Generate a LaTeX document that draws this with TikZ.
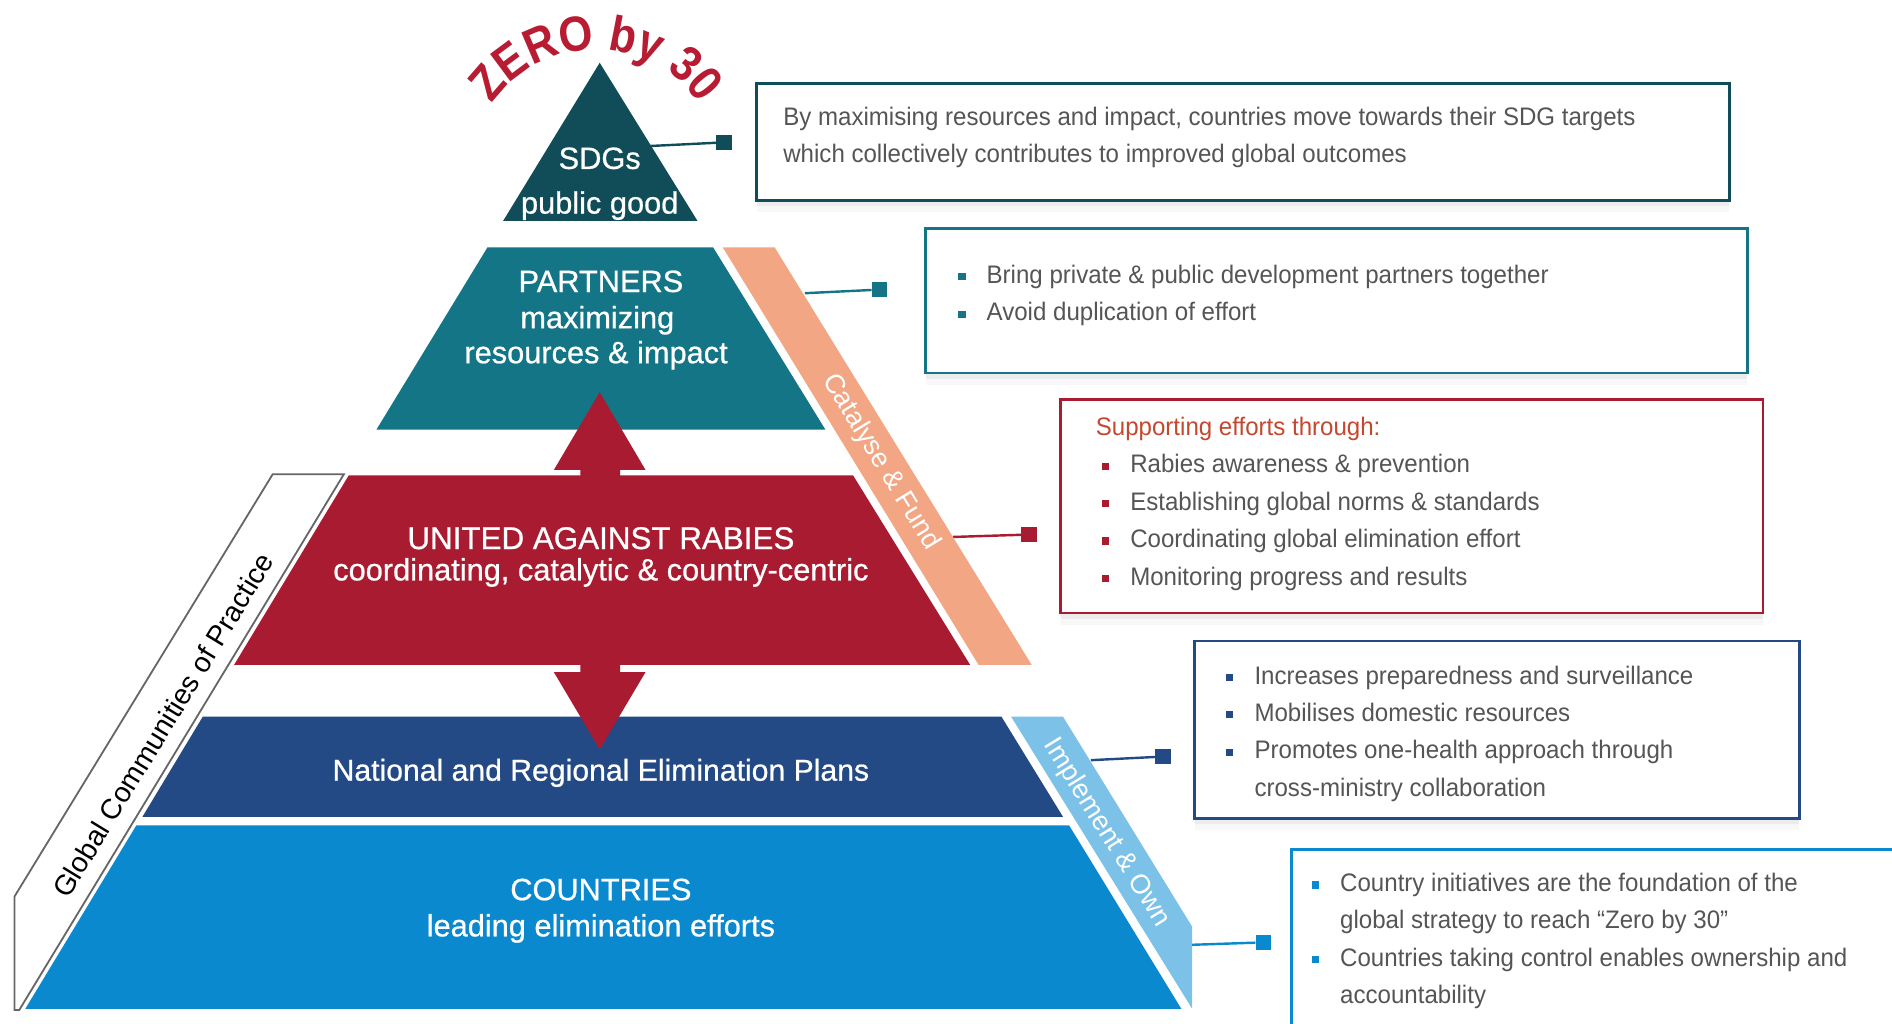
\documentclass[tikz,border=0pt]{standalone}
\usepackage{fontspec}
\setmainfont{Liberation Sans}
\newfontfamily\boxfont[FakeStretch=0.95]{Liberation Sans}
\newfontfamily\tierfont[FakeBold=0.7]{Liberation Sans}
\newfontfamily\zerofam[FakeStretch=0.88]{Liberation Sans}
\usepackage{tikz}
\usetikzlibrary{positioning,decorations.text,shadows}
\definecolor{sdgcol}{RGB}{16,77,88}
\definecolor{partcol}{RGB}{19,117,133}
\definecolor{uarcol}{RGB}{169,27,48}
\definecolor{natcol}{RGB}{36,74,134}
\definecolor{ctrycol}{RGB}{10,137,207}
\definecolor{catcol}{RGB}{242,166,131}
\definecolor{implcol}{RGB}{124,194,232}
\definecolor{zerocol}{RGB}{183,28,50}
\definecolor{bodycol}{RGB}{85,85,85}
\definecolor{headcol}{RGB}{196,72,48}
\newcommand{\zerofont}{\zerofam\bfseries\fontsize{41}{44}\selectfont}
\newcommand{\sqbul}[1]{\makebox[23.5pt][l]{\textcolor{#1}{\rule[2.5pt]{6pt}{6pt}}}}
\newcommand{\nobul}{\hspace*{23.5pt}}

\begin{document}
\begin{tikzpicture}[x=1pt, y=-1pt]
        \tikzstyle{lbl} = [text=white, inner sep=0pt, anchor=base, font=\tierfont\fontsize{25.5}{30}\selectfont]
        \tikzstyle{bandlbl} = [text=white, inner sep=0pt, font=\fontsize{22.5}{26}\selectfont]
        \tikzstyle{sq} = [fill=#1, minimum size=13pt, inner sep=0pt]
        \tikzstyle{link} = [draw=#1, line width=2pt]
        \tikzstyle{infobox} = [draw=#1, line width=2.2pt, fill=white, anchor=north west, inner sep=0pt,
            drop shadow={shadow xshift=0pt, shadow yshift=-5pt, opacity=0.10},
            drop shadow={shadow xshift=0pt, shadow yshift=-10pt, opacity=0.05}]
        \tikzstyle{boxtxt} = [text=bodycol, inner sep=0pt, anchor=north west, align=left,
            font=\boxfont\fontsize{21}{31}\selectfont]
        \useasboundingbox (0,0) rectangle (1568,848);
        \clip (0,0) rectangle (1568,848);
        \fill[white] (0,0) rectangle (1568,848);

        \fill[catcol] (599,205) -- (642,205) -- (855,551) -- (811,551) -- cycle;
        \fill[implcol] (838,594) -- (881,594) -- (988,768) -- (988,836) -- cycle;
        \filldraw[fill=white, draw=gray!80!black, line width=1.5pt] (226,393) -- (285,393) -- (16,837) -- (12,837) -- (12,743) -- cycle;

        \fill[sdgcol] (497,52) -- (578,183) -- (417,183) -- cycle;
        \fill[partcol] (404,205) -- (591,205) -- (684,356) -- (312,356) -- cycle;
        \fill[uarcol] (289,394) -- (707,394) -- (804,551) -- (194,551) -- cycle;
        \fill[natcol] (168,594) -- (830,594) -- (881,677) -- (118,677) -- cycle;
        \fill[ctrycol] (113,684) -- (886,684) -- (979,836) -- (21,836) -- cycle;

        \fill[uarcol] (497,325) -- (535,389.5) -- (514,389.5) -- (514,396) -- (481,396) -- (481,389.5) -- (459,389.5) -- cycle;
        \fill[uarcol] (497,621) -- (535,557) -- (514,557) -- (514,549) -- (481,549) -- (481,557) -- (459,557) -- cycle;

        \coordinate (zc) at (494,146);
        \path[decorate, decoration={text along path, text={|\zerofont|ZERO by 30}, text align=center, text color=zerocol}]
            (zc) ++(165:105pt) arc[start angle=165, end angle=15, radius=105pt];

        \node (sdgs) [lbl] at (497,140) {SDGs};
        \node (pubgood) [lbl] at (497,177) {public good};
        \node (partners) [lbl] at (498,242) {PARTNERS};
        \node (maxim) [lbl] at (495,272) {maximizing};
        \node (resimp) [lbl] at (494,301) {resources \& impact};
        \node (uar) [lbl, font=\tierfont\fontsize{26}{30}\selectfont] at (498,455) {UNITED AGAINST RABIES};
        \node (coord) [lbl, font=\tierfont\fontsize{25.5}{30}\selectfont] at (498,481) {coordinating, catalytic \& country-centric};
        \node (natplans) [lbl, font=\tierfont\fontsize{25}{30}\selectfont] at (498,647) {National and Regional Elimination Plans};
        \node (countries) [lbl] at (498,746) {COUNTRIES};
        \node (leading) [lbl] at (498,776) {leading elimination efforts};

        \node (catalyse) [bandlbl, rotate=-58.6] at (730,383) {Catalyse \& Fund};
        \node (implement) [bandlbl, rotate=-58.2] at (917,690) {Implement \& Own};
        \node (gcop) [bandlbl, text=black, font=\fontsize{23.5}{26}\selectfont, rotate=58.6] at (135,601) {Global Communities of Practice};

        \node (sdgbox) [infobox=sdgcol, minimum width=806pt, minimum height=97pt] at (626,68) {};
        \node (partbox) [infobox=partcol, minimum width=681pt, minimum height=120pt] at (766,188) {};
        \node (uarbox) [infobox=uarcol, minimum width=582pt, minimum height=177pt] at (878,330) {};
        \node (natbox) [infobox=natcol, minimum width=501pt, minimum height=147pt] at (989,530) {};
        \node (ctrybox) [infobox=ctrycol, minimum width=600pt, minimum height=200pt] at (1069,703) {};

        \node (sdgtext) [boxtxt] at (649,82) {\strut By maximising resources and impact, countries move towards their SDG targets\\
            \strut which collectively contributes to improved global outcomes};
        \node (parttext) [boxtxt] at (794,213) {\strut\sqbul{partcol}Bring private \& public development partners together\\
            \strut\sqbul{partcol}Avoid duplication of effort};
        \node (uartext) [boxtxt] at (908,339) {\strut\textcolor{headcol}{Supporting efforts through:}\\
            \strut\hspace*{5pt}\sqbul{uarcol}Rabies awareness \& prevention\\
            \strut\hspace*{5pt}\sqbul{uarcol}Establishing global norms \& standards\\
            \strut\hspace*{5pt}\sqbul{uarcol}Coordinating global elimination effort\\
            \strut\hspace*{5pt}\sqbul{uarcol}Monitoring progress and results};
        \node (nattext) [boxtxt] at (1016,545) {\strut\sqbul{natcol}Increases preparedness and surveillance\\
            \strut\sqbul{natcol}Mobilises domestic resources\\
            \strut\sqbul{natcol}Promotes one-health approach through\\
            \strut\nobul cross-ministry collaboration};
        \node (ctrytext) [boxtxt] at (1087,717) {\strut\sqbul{ctrycol}Country initiatives are the foundation of the\\
            \strut\nobul global strategy to reach “Zero by 30”\\
            \strut\sqbul{ctrycol}Countries taking control enables ownership and\\
            \strut\nobul accountability};

        \coordinate (sdgpt) at (539,121);
        \coordinate (partpt) at (667,243);
        \coordinate (uarpt) at (790,445);
        \coordinate (natpt) at (904,630);
        \coordinate (ctrypt) at (988,783);
        \node (sdgsq) [sq=sdgcol] at (600,118) {};
        \node (partsq) [sq=partcol] at (729,240) {};
        \node (uarsq) [sq=uarcol] at (853,443) {};
        \node (natsq) [sq=natcol] at (964,627) {};
        \node (ctrysq) [sq=ctrycol] at (1047,781) {};
        \draw[link=sdgcol] (sdgpt) -- (sdgsq);
        \draw[link=partcol] (partpt) -- (partsq);
        \draw[link=uarcol] (uarpt) -- (uarsq);
        \draw[link=natcol] (natpt) -- (natsq);
        \draw[link=ctrycol] (ctrypt) -- (ctrysq);
    \end{tikzpicture}
\end{document}
